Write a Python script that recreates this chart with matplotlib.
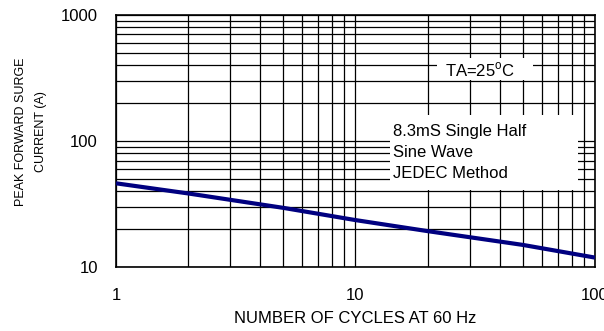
import matplotlib
matplotlib.use("Agg")
import matplotlib.pyplot as plt
from matplotlib.patches import Rectangle
from matplotlib.ticker import LogLocator, NullFormatter, FixedLocator, FixedFormatter

plt.rcParams['font.family'] = ['Liberation Sans', 'DejaVu Sans']

# surge curve
cycles = [1, 2, 5, 10, 20, 50, 100]
current = [46.2, 38.4, 29.5, 23.6, 19.3, 15.0, 11.9]

x_ticks = [1, 10, 100]
x_labels = ["1", "10", "100"]
y_ticks = [10, 100, 1000]
y_labels = ["10", "100", "1000"]

fig = plt.figure(figsize=(6.04, 3.31), dpi=100)
ax = fig.add_axes([0.192, 0.193, 0.793, 0.762])

ax.set_xscale("log")
ax.set_yscale("log")
ax.set_xlim(1, 100)
ax.set_ylim(10, 1000)

ax.xaxis.set_major_locator(FixedLocator(x_ticks))
ax.xaxis.set_major_formatter(FixedFormatter(x_labels))
ax.yaxis.set_major_locator(FixedLocator(y_ticks))
ax.yaxis.set_major_formatter(FixedFormatter(y_labels))
ax.xaxis.set_minor_locator(LogLocator(base=10, subs=range(2, 10)))
ax.yaxis.set_minor_locator(LogLocator(base=10, subs=range(2, 10)))
ax.xaxis.set_minor_formatter(NullFormatter())
ax.yaxis.set_minor_formatter(NullFormatter())

ax.tick_params(which="both", length=0)
ax.tick_params(axis="x", pad=15, labelsize=12)
ax.tick_params(axis="y", pad=13, labelsize=12)

ax.set_axisbelow(True)
ax.grid(True, which="both", color="black", linewidth=0.9)
for s in ax.spines.values():
    s.set_linewidth(1.2)

ax.plot(cycles, current, color="#000080", linewidth=3, zorder=3, solid_capstyle="butt")

# white boxes that hide the grid behind the notes
ax.add_patch(Rectangle((0.670, 0.742), 0.201, 0.087, transform=ax.transAxes,
                       facecolor="white", edgecolor="none", zorder=1))
ax.add_patch(Rectangle((0.572, 0.306), 0.393, 0.297, transform=ax.transAxes,
                       facecolor="white", edgecolor="none", zorder=1))

ax.text(0.76, 0.780, r"TA=25$^\mathregular{o}$C", transform=ax.transAxes,
        ha="center", va="center", fontsize=12, zorder=4)
ax.text(0.578, 0.456, "8.3mS Single Half\nSine Wave\nJEDEC Method",
        transform=ax.transAxes, ha="left", va="center", fontsize=12,
        linespacing=1.5, zorder=4)

ax.set_xlabel("NUMBER OF CYCLES AT 60 Hz", fontsize=12)
ax.xaxis.set_label_coords(0.5, -0.175)
ax.set_ylabel("PEAK FORWARD SURGE\nCURRENT (A)", fontsize=9, linespacing=1.85)
ax.yaxis.set_label_coords(-0.144, 0.538)

fig.savefig("out.png", dpi=100)
